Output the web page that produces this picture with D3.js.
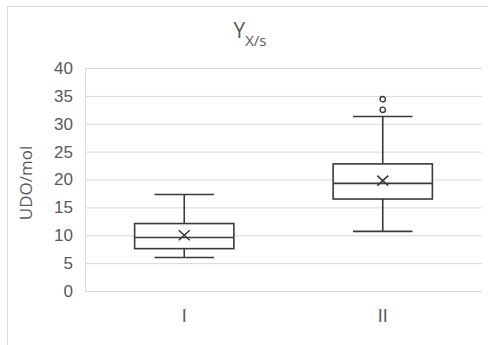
<!DOCTYPE html>
<html>
<head>
<meta charset="utf-8">
<script src="https://cdn.jsdelivr.net/npm/d3@7"></script>
<style>
  body { margin: 0; background: #fff; }
  svg { display: block; font-family: "Open Sans", sans-serif; }
  .tick text { fill: #595959; font-size: 17px; }
</style>
</head>
<body>
<script>
// box plot data
const categories = ["I", "II"];
const minVals = [6.0, 10.7];
const q1Vals = [7.6, 16.5];
const medians = [9.6, 19.3];
const q3Vals = [12.1, 22.8];
const maxVals = [17.3, 31.3];
const means = [10.0, 19.8];
const outliers = [[], [32.5, 34.4]];
const yTicks = [0, 5, 10, 15, 20, 25, 30, 35, 40];

const W = 488, H = 345;
const margin = { top: 68, right: 6, bottom: 54, left: 85 },
    width = W - margin.left - margin.right,
    height = H - margin.top - margin.bottom;

const svgRoot = d3.select("body").append("svg")
    .attr("width", W)
    .attr("height", H);

// chart border
svgRoot.append("rect")
    .attr("x", 7.5).attr("y", 6.5)
    .attr("width", 500).attr("height", 400)
    .attr("fill", "none")
    .attr("stroke", "#d9d9d9");

// title
const title = svgRoot.append("text")
    .attr("x", 250).attr("y", 38)
    .attr("text-anchor", "middle")
    .attr("fill", "#595959")
    .style("font-size", "21px");
title.append("tspan").text("Y");
title.append("tspan").attr("dy", 8).style("font-size", "15px").text("X/s");

const svg = svgRoot.append("g")
    .attr("transform", "translate(" + margin.left + "," + margin.top + ")");

const x = d3.scaleBand()
    .domain(categories)
    .range([0, width]);

const y = d3.scaleLinear()
    .domain([0, 40])
    .range([height, 0]);

// gridlines + y ticks
const yAxis = svg.append("g")
    .call(d3.axisLeft(y)
        .tickValues(yTicks)
        .tickSize(-width)
        .tickPadding(12));
yAxis.select(".domain").remove();
yAxis.selectAll(".tick line").attr("stroke", "#d9d9d9");

// vertical axis line
svg.append("line")
    .attr("x1", 0.5).attr("x2", 0.5)
    .attr("y1", y(40)).attr("y2", y(0))
    .attr("stroke", "#d9d9d9");

// x labels
const xAxis = svg.append("g")
    .attr("transform", "translate(0," + height + ")")
    .call(d3.axisBottom(x).tickSize(0).tickPadding(18));
xAxis.select(".domain").remove();
xAxis.selectAll(".tick text").style("font-size", "18px");

// y label
svgRoot.append("text")
    .attr("transform", "translate(32,183) rotate(-90)")
    .attr("text-anchor", "middle")
    .attr("fill", "#595959")
    .style("font-size", "17px")
    .text("UDO/mol");

// boxes
const boxW = x.bandwidth() * 0.5,
    capW = x.bandwidth() * 0.15;
const stroke = "#3a3a3a";

const boxes = svg.selectAll("g.box")
    .data(categories)
    .enter().append("g")
    .attr("class", "box")
    .attr("transform", d => "translate(" + (x(d) + x.bandwidth() / 2) + ",0)");

// whiskers
boxes.append("line")
    .attr("x1", 0).attr("x2", 0)
    .attr("y1", (d, i) => y(minVals[i])).attr("y2", (d, i) => y(q1Vals[i]))
    .attr("stroke", stroke).attr("stroke-width", 1.6);
boxes.append("line")
    .attr("x1", 0).attr("x2", 0)
    .attr("y1", (d, i) => y(q3Vals[i])).attr("y2", (d, i) => y(maxVals[i]))
    .attr("stroke", stroke).attr("stroke-width", 1.6);
boxes.append("line")
    .attr("x1", -capW).attr("x2", capW)
    .attr("y1", (d, i) => y(minVals[i])).attr("y2", (d, i) => y(minVals[i]))
    .attr("stroke", stroke).attr("stroke-width", 1.6);
boxes.append("line")
    .attr("x1", -capW).attr("x2", capW)
    .attr("y1", (d, i) => y(maxVals[i])).attr("y2", (d, i) => y(maxVals[i]))
    .attr("stroke", stroke).attr("stroke-width", 1.6);

// box
boxes.append("rect")
    .attr("x", -boxW / 2)
    .attr("width", boxW)
    .attr("y", (d, i) => y(q3Vals[i]))
    .attr("height", (d, i) => y(q1Vals[i]) - y(q3Vals[i]))
    .attr("fill", "#fff")
    .attr("stroke", stroke).attr("stroke-width", 1.6);

// median
boxes.append("line")
    .attr("x1", -boxW / 2).attr("x2", boxW / 2)
    .attr("y1", (d, i) => y(medians[i])).attr("y2", (d, i) => y(medians[i]))
    .attr("stroke", stroke).attr("stroke-width", 1.6);

// mean marker
boxes.append("path")
    .attr("transform", (d, i) => "translate(0," + y(means[i]) + ")")
    .attr("d", "M-5.5,-5L5.5,5M-5.5,5L5.5,-5")
    .attr("stroke", stroke).attr("stroke-width", 1.6)
    .attr("fill", "none");

// outliers
boxes.selectAll("circle")
    .data((d, i) => outliers[i])
    .enter().append("circle")
    .attr("cy", d => y(d))
    .attr("r", 2.7)
    .attr("fill", "#fff")
    .attr("stroke", stroke).attr("stroke-width", 1.4);
</script>
</body>
</html>
